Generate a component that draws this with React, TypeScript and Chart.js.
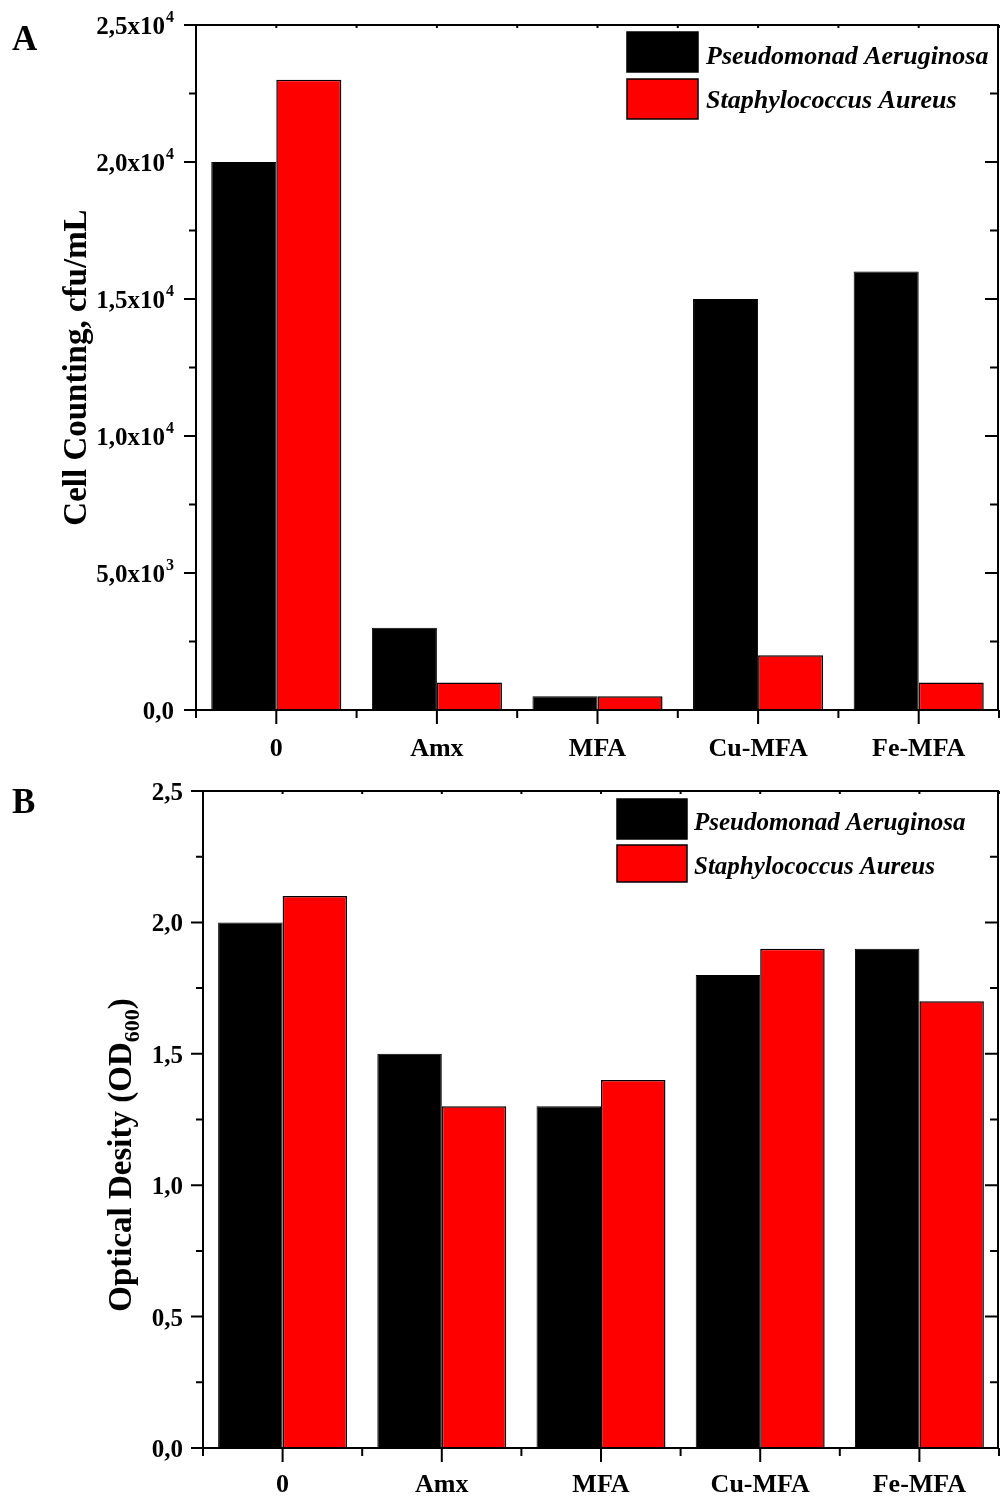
import React, { useEffect, useRef } from "react";
import { Chart, registerables } from "chart.js";

Chart.register(...registerables);

// ---------- data ----------
const categories = ["0", "Amx", "MFA", "Cu-MFA", "Fe-MFA"];
const seriesNames = ["Pseudomonad Aeruginosa", "Staphylococcus Aureus"];
const seriesColors = ["#000000", "#ff0000"];

const cellPseudomonas = [20000, 3000, 500, 15000, 16000];
const cellStaph = [23000, 1000, 500, 2000, 1000];

const odPseudomonas = [2.0, 1.5, 1.3, 1.8, 1.9];
const odStaph = [2.1, 1.3, 1.4, 1.9, 1.7];

const cellTickValues = [0, 5000, 10000, 15000, 20000, 25000];
const cellTickMain = ["0,0", "5,0x10", "1,0x10", "1,5x10", "2,0x10", "2,5x10"];
const cellTickSup = ["", "3", "4", "4", "4", "4"];

const odTickValues = [0, 0.5, 1.0, 1.5, 2.0, 2.5];
const odTickMain = ["0,0", "0,5", "1,0", "1,5", "2,0", "2,5"];
const odTickSup = ["", "", "", "", "", ""];

const FONT = '"Liberation Serif", "Times New Roman", serif';

type DecoCfg = {
  id: string;
  panelLabel: string;
  panelLabelY: number;
  tickValues: number[];
  tickMain: string[];
  tickSup: string[];
  labelRight: number;
  titleParts: { text: string; sub?: boolean }[];
  titleX: number;
  titleCenterY: number | null;
  legendBoxX: number;
  legendBoxW: number;
  legendBoxes: [number, number][];
  legendTextX: number;
  legendBaselines: number[];
  legendFont: number;
};

function makeDeco(cfg: DecoCfg) {
  return {
    id: cfg.id,
    afterDraw(chart: any) {
      const ctx = chart.ctx as CanvasRenderingContext2D;
      const a = chart.chartArea;
      const xs = chart.scales.x;
      const ys = chart.scales.y;
      ctx.save();
      ctx.strokeStyle = "#000";
      ctx.fillStyle = "#000";
      ctx.lineWidth = 2;
      // frame
      ctx.strokeRect(a.left, a.top, a.right - a.left - 1, a.bottom - a.top);
      const R = a.right - 1;
      // y ticks
      const vals = cfg.tickValues;
      const step = vals[1] - vals[0];
      ctx.beginPath();
      for (let i = 0; i < vals.length; i++) {
        const y = ys.getPixelForValue(vals[i]);
        ctx.moveTo(a.left - 12, y);
        ctx.lineTo(a.left, y);
        ctx.moveTo(R, y);
        ctx.lineTo(R - 13, y);
        if (i < vals.length - 1) {
          const ym = ys.getPixelForValue(vals[i] + step / 2);
          ctx.moveTo(a.left - 7, ym);
          ctx.lineTo(a.left, ym);
          ctx.moveTo(R, ym);
          ctx.lineTo(R - 8, ym);
        }
      }
      // x ticks
      for (let i = 0; i < categories.length; i++) {
        const x = xs.getPixelForValue(i);
        ctx.moveTo(x, a.bottom);
        ctx.lineTo(x, a.bottom + 14);
        ctx.moveTo(x, a.top);
        ctx.lineTo(x, a.top + 3);
      }
      for (let i = 0; i <= categories.length; i++) {
        const x = xs.getPixelForValue(i - 0.5);
        ctx.moveTo(x, a.bottom);
        ctx.lineTo(x, a.bottom + 8);
        ctx.moveTo(x, a.top);
        ctx.lineTo(x, a.top + 3);
      }
      ctx.stroke();

      // y tick labels
      ctx.textBaseline = "alphabetic";
      ctx.textAlign = "left";
      for (let i = 0; i < vals.length; i++) {
        const y = ys.getPixelForValue(vals[i]);
        ctx.font = `bold 25px ${FONT}`;
        const wMain = ctx.measureText(cfg.tickMain[i]).width;
        ctx.font = `bold 16px ${FONT}`;
        const wSup = cfg.tickSup[i] ? ctx.measureText(cfg.tickSup[i]).width + 1 : 0;
        const x0 = cfg.labelRight - wMain - wSup;
        ctx.font = `bold 25px ${FONT}`;
        ctx.fillText(cfg.tickMain[i], x0, y + 9);
        if (cfg.tickSup[i]) {
          ctx.font = `bold 16px ${FONT}`;
          ctx.fillText(cfg.tickSup[i], x0 + wMain + 1, y - 3);
        }
      }

      // axis title (rotated)
      const mainF = `bold 33px ${FONT}`;
      const subF = `bold 22px ${FONT}`;
      let total = 0;
      const widths: number[] = [];
      for (const p of cfg.titleParts) {
        ctx.font = p.sub ? subF : mainF;
        const w = ctx.measureText(p.text).width;
        widths.push(w);
        total += w;
      }
      const cy = cfg.titleCenterY != null ? cfg.titleCenterY : (a.top + a.bottom) / 2;
      ctx.save();
      ctx.translate(cfg.titleX, cy);
      ctx.rotate(-Math.PI / 2);
      let tx = -total / 2;
      cfg.titleParts.forEach((p, k) => {
        ctx.font = p.sub ? subF : mainF;
        ctx.fillText(p.text, tx, p.sub ? 8 : 0);
        tx += widths[k];
      });
      ctx.restore();

      // panel label
      ctx.font = `bold 35px ${FONT}`;
      ctx.fillText(cfg.panelLabel, 12, cfg.panelLabelY);

      // legend
      chart.data.datasets.forEach((ds: any, k: number) => {
        const [y0, y1] = cfg.legendBoxes[k];
        ctx.fillStyle = ds.backgroundColor;
        ctx.fillRect(cfg.legendBoxX, y0, cfg.legendBoxW, y1 - y0);
        ctx.lineWidth = 1.5;
        ctx.strokeStyle = "#000";
        ctx.strokeRect(cfg.legendBoxX, y0, cfg.legendBoxW, y1 - y0);
        ctx.fillStyle = "#000";
        ctx.font = `italic bold ${cfg.legendFont}px ${FONT}`;
        ctx.fillText(ds.label, cfg.legendTextX, cfg.legendBaselines[k]);
      });
      ctx.restore();
    },
  };
}

function Panel(props: {
  height: number;
  top: number;
  padTop: number;
  axisWidth: number;
  xHeight: number;
  labelPad: number;
  series: number[][];
  yMax: number;
  deco: DecoCfg;
}) {
  const ref = useRef<HTMLCanvasElement | null>(null);
  useEffect(() => {
    if (!ref.current) return;
    const chart = new Chart(ref.current, {
      type: "bar",
      data: {
        labels: categories,
        datasets: props.series.map((d, k) => ({
          label: seriesNames[k],
          data: d,
          backgroundColor: seriesColors[k],
          borderColor: "#000",
          borderWidth: k === 0 ? 1 : 1.5,
          categoryPercentage: 0.81,
          barPercentage: 1.0,
        })),
      },
      options: {
        animation: false,
        responsive: false,
        devicePixelRatio: 1,
        events: [],
        layout: { padding: { top: props.padTop, right: 1, left: 0, bottom: 0 } },
        plugins: { legend: { display: false }, tooltip: { enabled: false } },
        scales: {
          x: {
            grid: { display: false, drawTicks: false },
            border: { display: false },
            ticks: {
              color: "#000",
              font: { family: FONT, weight: "bold", size: 26 },
              padding: props.labelPad,
              maxRotation: 0,
              autoSkip: false,
            },
            afterFit: (s: any) => {
              s.height = props.xHeight;
            },
          },
          y: {
            min: 0,
            max: props.yMax,
            grid: { display: false, drawTicks: false },
            border: { display: false },
            ticks: { display: false },
            afterFit: (s: any) => {
              s.width = props.axisWidth;
            },
          },
        },
      },
      plugins: [makeDeco(props.deco)],
    } as any);
    return () => chart.destroy();
  }, []);
  return (
    <canvas
      ref={ref}
      width={1000}
      height={props.height}
      style={{ position: "absolute", left: 0, top: props.top, width: 1000, height: props.height }}
    />
  );
}

export default function App() {
  const decoA: DecoCfg = {
    id: "decoA",
    panelLabel: "A",
    panelLabelY: 50,
    tickValues: cellTickValues,
    tickMain: cellTickMain,
    tickSup: cellTickSup,
    labelRight: 174,
    titleParts: [{ text: "Cell Counting, cfu/mL" }],
    titleX: 86,
    titleCenterY: null,
    legendBoxX: 627,
    legendBoxW: 71,
    legendBoxes: [
      [32, 72],
      [79, 119],
    ],
    legendTextX: 706,
    legendBaselines: [64, 108],
    legendFont: 26,
  };
  const decoB: DecoCfg = {
    id: "decoB",
    panelLabel: "B",
    panelLabelY: 53,
    tickValues: odTickValues,
    tickMain: odTickMain,
    tickSup: odTickSup,
    labelRight: 183,
    titleParts: [{ text: "Optical Desity (OD" }, { text: "600", sub: true }, { text: ")" }],
    titleX: 131,
    titleCenterY: 395,
    legendBoxX: 617,
    legendBoxW: 70,
    legendBoxes: [
      [39, 79],
      [85, 122],
    ],
    legendTextX: 694,
    legendBaselines: [70, 114],
    legendFont: 25,
  };
  return (
    <div style={{ position: "absolute", left: 0, top: 0, width: 1000, height: 1500, background: "#fff" }}>
      <Panel
        height={780}
        top={0}
        padTop={25}
        axisWidth={196}
        xHeight={70}
        labelPad={24}
        series={[cellPseudomonas, cellStaph]}
        yMax={25000}
        deco={decoA}
      />
      <Panel
        height={740}
        top={760}
        padTop={31}
        axisWidth={203}
        xHeight={52}
        labelPad={22}
        series={[odPseudomonas, odStaph]}
        yMax={2.5}
        deco={decoB}
      />
    </div>
  );
}
